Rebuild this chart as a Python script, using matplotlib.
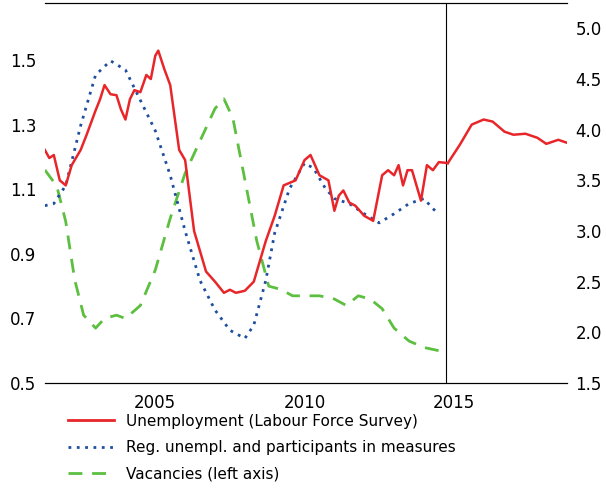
import matplotlib
matplotlib.use("Agg")
import matplotlib.pyplot as plt
from matplotlib.lines import Line2D

unemp_x = [2001.3,2001.45,2001.6,2001.8,2002.0,2002.2,2002.5,2002.7,2003.0,2003.15,2003.3,2003.5,2003.7,2003.85,2004.0,2004.15,2004.3,2004.5,2004.7,2004.85,2005.0,2005.1,2005.3,2005.5,2005.8,2006.0,2006.3,2006.7,2007.0,2007.3,2007.5,2007.7,2008.0,2008.3,2008.7,2009.0,2009.3,2009.7,2010.0,2010.2,2010.5,2010.8,2011.0,2011.15,2011.3,2011.5,2011.7,2012.0,2012.3,2012.6,2012.8,2013.0,2013.15,2013.3,2013.45,2013.6,2013.9,2014.1,2014.3,2014.5,2014.8]
unemp_y = [3.8,3.72,3.75,3.5,3.45,3.65,3.8,3.95,4.19,4.3,4.44,4.35,4.34,4.2,4.1,4.3,4.39,4.37,4.54,4.5,4.73,4.78,4.6,4.44,3.8,3.7,3.0,2.6,2.5,2.39,2.42,2.39,2.41,2.5,2.9,3.15,3.45,3.5,3.7,3.75,3.55,3.5,3.2,3.35,3.4,3.28,3.25,3.15,3.1,3.55,3.6,3.55,3.65,3.45,3.6,3.6,3.3,3.65,3.6,3.68,3.67]
proj_x = [2014.8,2015.2,2015.6,2016.0,2016.3,2016.7,2017.0,2017.4,2017.8,2018.1,2018.5,2018.8]
proj_y = [3.67,3.85,4.05,4.1,4.08,3.98,3.95,3.96,3.92,3.86,3.9,3.87]
reg_x = [2001.3,2001.6,2002.0,2002.5,2003.0,2003.5,2004.0,2004.5,2005.0,2005.5,2006.0,2006.5,2007.0,2007.5,2008.0,2008.3,2008.7,2009.0,2009.5,2010.0,2010.3,2010.7,2011.0,2011.5,2012.0,2012.5,2013.0,2013.5,2014.0,2014.3,2014.5]
reg_y = [3.25,3.27,3.45,4.04,4.54,4.68,4.59,4.29,3.99,3.55,3.0,2.51,2.22,2.02,1.94,2.07,2.51,2.98,3.42,3.67,3.62,3.42,3.32,3.27,3.17,3.08,3.17,3.27,3.32,3.22,3.17]
vac_x = [2001.3,2001.7,2002.0,2002.3,2002.6,2003.0,2003.3,2003.7,2004.0,2004.5,2005.0,2005.5,2006.0,2006.5,2007.0,2007.3,2007.6,2008.0,2008.4,2008.8,2009.2,2009.6,2010.0,2010.5,2011.0,2011.4,2011.8,2012.2,2012.6,2013.0,2013.5,2014.0,2014.5]
vac_y = [1.16,1.11,1.00,0.82,0.71,0.67,0.70,0.71,0.70,0.74,0.85,1.01,1.15,1.25,1.35,1.38,1.32,1.13,0.94,0.80,0.79,0.77,0.77,0.77,0.76,0.74,0.77,0.76,0.73,0.67,0.63,0.61,0.60]

fig = plt.figure(figsize=(6.06,5.03), dpi=100)
ax = fig.add_axes([0.074,0.2386,0.862,0.7554])
ax2 = ax.twinx()
ax.set_xlim(2001.3,2018.8)
ax.set_ylim(0.5,1.677)
ax2.set_ylim(1.5,5.25)
ax.set_yticks([0.5,0.7,0.9,1.1,1.3,1.5])
ax.set_yticklabels(["0.5","0.7","0.9","1.1","1.3","1.5"])
ax2.set_yticks([1.5,2.0,2.5,3.0,3.5,4.0,4.5,5.0])
ax2.set_yticklabels(["1.5","2.0","2.5","3.0","3.5","4.0","4.5","5.0"])
ax.set_xticks([2005,2010,2015])
for a in (ax,ax2):
    for s in ("left","right"):
        a.spines[s].set_visible(False)
    a.tick_params(length=0, labelsize=12, pad=6)
ax.tick_params(axis='x', pad=8)

ax.plot(vac_x, vac_y, color="#5cbf3f", lw=2, ls=(0,(5,3.5)))
ax2.plot(reg_x, reg_y, color="#1f4e9e", lw=2, ls=(0,(1,2)))
ax2.plot(unemp_x, unemp_y, color="#e8262a", lw=1.8)
ax2.plot(proj_x, proj_y, color="#e8262a", lw=1.8)
ax.axvline(2014.75, color="black", lw=0.8)

handles = [Line2D([],[],color="#e8262a",lw=2),
           Line2D([],[],color="#1f4e9e",lw=2,ls=(0,(1,2))),
           Line2D([],[],color="#5cbf3f",lw=2,ls=(0,(5,3.5)))]
labels = ["Unemployment (Labour Force Survey)","Reg. unempl. and participants in measures","Vacancies (left axis)"]
fig.legend(handles, labels, loc="upper left", bbox_to_anchor=(0.09,0.205), frameon=False, fontsize=11, handlelength=3, labelspacing=0.75)
fig.savefig("out.png", dpi=100)
